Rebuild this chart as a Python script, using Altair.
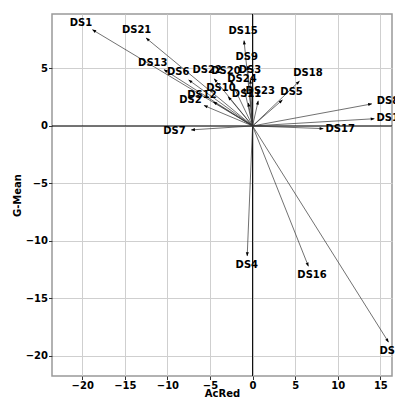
import altair as alt
import pandas as pd
import numpy as np

names = ["DS1", "DS2", "DS3", "DS4", "DS5", "DS6", "DS7", "DS8", "DS9", "DS10",
         "DS11", "DS12", "DS13", "DS14", "DS15", "DS16", "DS17", "DS18", "DS19",
         "DS20", "DS21", "DS22", "DS23", "DS24"]
acred = [-18.8, -5.7, -0.25, -0.63, 3.5, -7.5, -7.2, 14.0, -0.6, -2.87,
         -0.5, -4.6, -10.4, 14.3, -1.0, 6.55, 8.3, 5.5, 15.96,
         -2.6, -12.5, -4.5, 0.66, -1.0]
gmean = [8.37, 1.78, 4.0, -11.3, 2.26, 4.0, -0.34, 1.92, 5.2, 2.55,
         2.0, 2.1, 4.9, 0.63, 7.42, -12.2, -0.23, 3.9, -18.8,
         4.0, 7.65, 4.1, 2.18, 3.3]

x_ticks = [-20, -15, -10, -5, 0, 5, 10, 15]
y_ticks = [-20, -15, -10, -5, 0, 5]
x_dom = [-23.55, 16.37]
y_dom = [-21.75, 9.74]

W, H = 340, 362
ppx = W / (x_dom[1] - x_dom[0])
ppy = H / (y_dom[1] - y_dom[0])

df = pd.DataFrame({"name": names, "x": acred, "y": gmean})
px = df["x"] * ppx
py = df["y"] * ppy
L = np.hypot(px, py)
ux, uy = px / L, py / L
RX, RY = 17.0, 9.5
t = 1.0 / np.sqrt((ux / RX) ** 2 + (uy / RY) ** 2)
df["lx"] = df["x"] + ux * t / ppx
df["ly"] = df["y"] + uy * t / ppy
df["hx"] = df["x"] - ux * 2.0 / ppx
df["hy"] = df["y"] - uy * 2.0 / ppy
df["ang"] = (np.degrees(np.arctan2(px, py)) + 360) % 360
df["x0"] = 0.0
df["y0"] = 0.0

xs = alt.Scale(domain=x_dom, nice=False, zero=False)
ys = alt.Scale(domain=y_dom, nice=False, zero=False)

xax = alt.Axis(values=x_ticks, title="AcRed", format="d")
yax = alt.Axis(values=y_ticks, title="G-Mean", format="d")

base = alt.Chart(df)

zero_v = alt.Chart(pd.DataFrame({"v": [0]})).mark_rule(color="black", strokeWidth=1).encode(
    x=alt.X("v:Q", scale=xs, axis=xax))
zero_h = alt.Chart(pd.DataFrame({"v": [0]})).mark_rule(color="black", strokeWidth=1).encode(
    y=alt.Y("v:Q", scale=ys, axis=yax))

lines = base.mark_rule(color="#333333", strokeWidth=0.7).encode(
    x=alt.X("x0:Q", scale=xs, axis=xax), y=alt.Y("y0:Q", scale=ys, axis=yax),
    x2="x:Q", y2="y:Q")

heads = base.mark_point(shape="M0,-1L-0.65,0.7L0.65,0.7Z", filled=True, color="black",
                        size=22, opacity=1).encode(
    x=alt.X("hx:Q", scale=xs), y=alt.Y("hy:Q", scale=ys),
    angle=alt.Angle("ang:Q", scale=None))

labels = base.mark_text(font="DejaVu Sans", fontWeight="bold", fontSize=10,
                        color="black", align="center", baseline="middle").encode(
    x=alt.X("lx:Q", scale=xs), y=alt.Y("ly:Q", scale=ys), text="name:N")

chart = alt.layer(zero_v, zero_h, lines, heads, labels).properties(
    width=W, height=H, autosize="none",
    padding={"left": 44, "top": 6, "right": 3, "bottom": 23},
).configure_view(stroke="#999999", strokeWidth=1.5).configure_axis(
    grid=True, gridColor="#cfcfcf", gridWidth=1, domain=False,
    ticks=True, tickSize=3.5, tickColor="#333333", tickWidth=1,
    labelFont="DejaVu Sans", labelFontWeight="bold", labelFontSize=10, labelColor="black",
    titleFont="DejaVu Sans", titleFontWeight="bold", titleFontSize=10, titleColor="black",
).configure_axisX(labelPadding=1, titlePadding=-2).configure_axisY(labelPadding=1, titlePadding=3)

chart.save("out.html", embed_options={"renderer": "svg", "actions": False})
